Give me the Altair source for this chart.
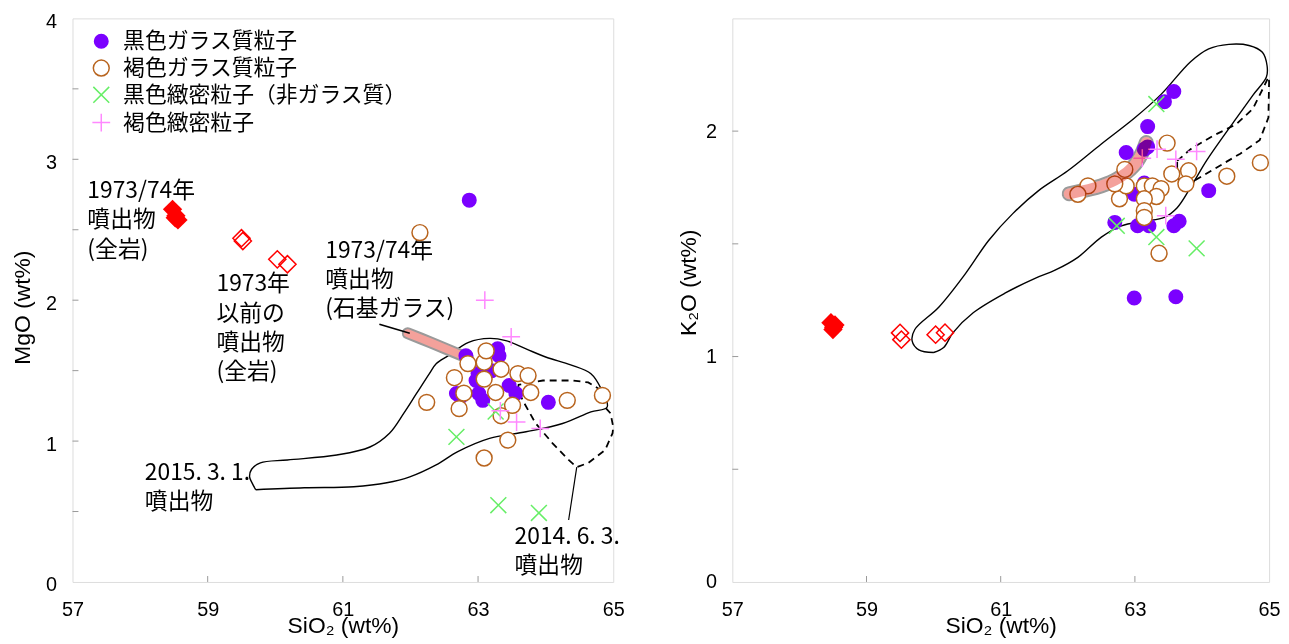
import altair as alt
import pandas as pd

# ---------------- data ----------------
KINDS = ["黒色ガラス質粒子", "褐色ガラス質粒子", "黒色緻密粒子（非ガラス質）", "褐色緻密粒子"]

# left panel: MgO vs SiO2
L_BG_SIO2 = [62.87, 62.82, 63.29, 63.31, 62.68, 62.97, 63.01, 63.07, 63.46, 63.56, 64.04, 63.00, 62.74, 63.20]
L_BG_MGO = [2.71, 1.606, 1.655, 1.606, 1.338, 1.43, 1.338, 1.289, 1.394, 1.338, 1.275, 1.48, 1.313, 1.50]
L_BRG_SIO2 = [62.24, 62.65, 62.72, 62.79, 62.85, 63.09, 63.12, 63.09, 63.26, 63.34, 63.34, 63.44, 63.09,
              63.51, 63.59, 63.74, 63.78, 64.32, 64.84, 62.14]
L_BRG_MGO = [1.275, 1.45, 1.23, 1.34, 1.55, 1.56, 1.64, 1.44, 1.345, 1.51, 1.18, 1.007, 0.88,
             1.254, 1.479, 1.465, 1.345, 1.289, 1.324, 2.48]
L_BD_SIO2 = [62.68, 63.26, 63.30, 63.90]
L_BD_MGO = [1.03, 1.21, 0.545, 0.49]
L_BRD_SIO2 = [63.10, 63.49, 63.33, 63.57, 63.92]
L_BRD_MGO = [2.0, 1.74, 1.215, 1.135, 1.09]
L_WR7374_SIO2 = [58.48, 58.53, 58.56, 58.52]
L_WR7374_MGO = [2.645, 2.60, 2.57, 2.585]
L_WRPRE_SIO2 = [59.50, 59.52, 60.03, 60.18]
L_WRPRE_MGO = [2.44, 2.42, 2.29, 2.255]

# right panel: K2O vs SiO2
R_BG_SIO2 = [63.58, 63.44, 63.19, 62.87, 63.19, 63.14, 62.99, 63.14, 64.10, 62.70, 63.04, 63.21, 63.58, 63.66, 62.99, 63.61]
R_BG_K2O = [2.176, 2.13, 2.02, 1.905, 1.93, 1.92, 1.72, 1.77, 1.736, 1.595, 1.58, 1.58, 1.58, 1.60, 1.26, 1.265]
R_BRG_SIO2 = [63.48, 63.55, 63.80, 63.76, 64.37, 64.87, 63.14, 63.26, 63.39, 63.32, 63.14, 63.14, 63.14,
              62.77, 62.87, 62.70, 62.85, 62.30, 62.15, 63.36]
R_BRG_K2O = [1.947, 1.81, 1.824, 1.766, 1.80, 1.86, 1.757, 1.757, 1.745, 1.71, 1.70, 1.647, 1.617,
             1.70, 1.757, 1.766, 1.83, 1.757, 1.72, 1.458]
R_BD_SIO2 = [63.32, 62.73, 63.32, 63.92]
R_BD_K2O = [2.12, 1.58, 1.53, 1.48]
R_BRD_SIO2 = [63.11, 63.33, 63.61, 63.92, 63.46]
R_BRD_K2O = [1.88, 1.92, 1.875, 1.91, 1.625]
R_WR7374_SIO2 = [58.47, 58.51, 58.53, 58.50]
R_WR7374_K2O = [1.15, 1.13, 1.14, 1.12]
R_WRPRE_SIO2 = [59.50, 59.52, 60.03, 60.17]
R_WRPRE_K2O = [1.105, 1.075, 1.097, 1.106]

# groundmass glass 1973/74 (band)
L_BAND_SIO2 = [61.96, 62.3, 62.6, 62.85]
L_BAND_MGO = [1.765, 1.70, 1.64, 1.59]
R_BAND_SIO2 = [62.02, 62.5, 62.75, 62.98, 63.10, 63.17]
R_BAND_K2O = [1.722, 1.757, 1.79, 1.845, 1.90, 1.95]

# 2015.3.1 field (solid outline)
L_F2015_SIO2 = [59.71, 60.43, 61.16, 61.65, 61.99, 62.38, 62.70, 63.17, 63.71, 64.25, 64.67, 64.91,
                64.82, 64.67, 64.37, 64.01, 63.71, 63.41, 63.17, 62.86, 62.56, 62.38, 62.28, 62.09,
                61.90, 61.69, 61.40, 60.91, 60.18, 59.78, 59.65, 59.62, 59.66, 59.71]
L_F2015_MGO = [0.655, 0.669, 0.676, 0.704, 0.746, 0.831, 0.925, 1.019, 1.066, 1.125, 1.207, 1.242,
               1.372, 1.478, 1.541, 1.595, 1.654, 1.713, 1.729, 1.701, 1.607, 1.549, 1.479, 1.338,
               1.197, 1.056, 0.958, 0.901, 0.866, 0.845, 0.80, 0.746, 0.70, 0.655]
R_F2015_SIO2 = [60.0, 59.78, 59.68, 59.72, 60.08, 60.48, 60.82, 61.18, 61.56, 62.0, 62.5, 62.99, 63.39,
                63.83, 64.1, 64.4, 64.7, 64.9, 64.97, 64.96, 64.76, 64.47, 64.07, 63.83, 63.63, 63.44,
                63.14, 62.8, 62.5, 62.15, 61.81, 61.52, 61.07, 60.59, 60.29, 60.15, 60.0]
R_F2015_K2O = [1.018, 1.03, 1.07, 1.12, 1.22, 1.37, 1.515, 1.634, 1.735, 1.824, 1.943, 2.057, 2.163,
               2.308, 2.365, 2.385, 2.38, 2.35, 2.29, 2.24, 2.16, 2.04, 1.87, 1.75, 1.66, 1.617,
               1.60, 1.58, 1.53, 1.44, 1.383, 1.348, 1.282, 1.194, 1.106, 1.04, 1.018]

# 2014.6.3 field (dashed outline)
L_F2014_SIO2 = [63.59, 63.60, 63.96, 64.40, 64.63, 64.78, 64.88, 64.96, 65.0, 64.99, 64.88, 64.63,
                64.46, 64.34, 64.10, 63.85, 63.66, 63.59]
L_F2014_MGO = [1.37, 1.40, 1.43, 1.43, 1.416, 1.373, 1.24, 1.197, 1.10, 1.056, 0.937, 0.845,
               0.815, 0.866, 0.986, 1.127, 1.289, 1.37]
R_F2014_SIO2 = [63.63, 63.83, 64.17, 64.51, 64.76, 64.91, 64.99, 65.0, 64.99, 64.86, 64.57, 64.17,
                63.83, 63.63, 63.63]
R_F2014_K2O = [1.868, 1.92, 1.98, 2.03, 2.10, 2.19, 2.24, 2.22, 2.06, 1.96, 1.90, 1.83,
               1.77, 1.79, 1.868]

# leader lines
L_LEAD1_SIO2 = [61.54, 61.99]
L_LEAD1_MGO = [1.83, 1.765]
L_LEAD2_SIO2 = [64.46, 64.34]
L_LEAD2_MGO = [0.815, 0.44]

# annotations
ANN_TEXT = ["1973/74年|噴出物|(全岩)", "1973年|以前の|噴出物|(全岩)", "1973/74年|噴出物|(石基ガラス)",
            "2015. 3. 1.|噴出物", "2014. 6. 3.|噴出物"]
ANN_SIO2 = [57.22, 59.13, 60.74, 58.07, 63.54]
ANN_MGO = [2.725, 2.063, 2.30, 0.725, 0.268]

X_TICK_LABELS = [57, 59, 61, 63, 65]
X_TICK_MARKS = [59, 61, 63]
L_Y_LABELS = [0, 1, 2, 3, 4]
L_Y_MARKS = [0.5, 1, 1.5, 2, 2.5, 3, 3.5]
R_Y_LABELS = [0, 1, 2]
R_Y_MARKS = [0.5, 1, 1.5, 2]

# ---------------- styling ----------------
JP = "Noto Sans CJK JP"
NUM = "Liberation Sans, Arial, sans-serif"
STROKES = ["#7b00ff", "#b8641e", "#66ee66", "#ff88ff"]
FILLS = ["#7b00ff", "#ffffff", "transparent", "transparent"]
SHAPES = ["M0.85,0A0.85,0.85,0,1,1,-0.85,0A0.85,0.85,0,1,1,0.85,0Z",
          "circle",
          "M-1,-1L1,1M-1,1L1,-1",
          "M-1.12,0L1.12,0M0,-1.12L0,1.12"]
BAND_GRAY = "#9a9a9a"
BAND_PINK = "#f4a19b"

W_L, W_R, H = 545, 541, 568


def df_xy(xs, ys):
    d = pd.DataFrame({"x": xs, "y": ys})
    d["i"] = range(len(d))
    return d


def make_panel(ymax, ylabels, ymarks, ytitle, ytitle_x, ytitle_y, ylabel_offset, width, pts, wr73, wrpre,
               band, f2015, f2014, legend, extra_layers, band_on_top):
    xs = alt.Scale(domain=[57, 65], nice=False, zero=False)
    ys = alt.Scale(domain=[0, ymax], nice=False, zero=False)
    xaxis = alt.Axis(values=X_TICK_LABELS, title="SiO₂ (wt%)", ticks=False, domain=False, grid=False,
                     labelFont=NUM, labelFontSize=20, labelPadding=18, labelColor="black",
                     titleFont=NUM, titleFontSize=23, titleFontWeight="normal", titleColor="black",
                     titleY=51, titleBaseline="alphabetic", format="d", labelFlush=False)
    yaxis = alt.Axis(values=ylabels, title=ytitle, ticks=False, domain=False, grid=False,
                     labelFont=NUM, labelFontSize=20, labelPadding=16, labelColor="black",
                     labelOffset=ylabel_offset,
                     titleFont=NUM, titleFontSize=23, titleFontWeight="normal", titleColor="black",
                     titleX=ytitle_x, titleY=ytitle_y, titleBaseline="middle", titleAngle=-90,
                     format="d", labelFlush=False)

    def X(f="x"):
        return alt.X(f"{f}:Q", scale=xs, axis=xaxis)

    def Y(f="y"):
        return alt.Y(f"{f}:Q", scale=ys, axis=yaxis)

    def band_line(color, w, **kw):
        return alt.Chart(band).mark_line(color=color, strokeWidth=w, strokeCap="round", strokeJoin="round",
                                         interpolate="catmull-rom", **kw).encode(x=X(), y=Y(), order="i:Q")

    layers = []
    # inward tick marks
    layers.append(alt.Chart(pd.DataFrame({"v": ymarks})).mark_rule(color="#999999", strokeWidth=1).encode(
        y=Y("v"), x=alt.value(0), x2=alt.value(6)))
    layers.append(alt.Chart(pd.DataFrame({"v": X_TICK_MARKS})).mark_rule(color="#999999", strokeWidth=1).encode(
        x=X("v"), y=alt.value(H), y2=alt.value(H - 6)))
    # outlines
    layers.append(alt.Chart(f2015).mark_line(color="black", strokeWidth=1.4, interpolate="catmull-rom").encode(
        x=X(), y=Y(), order="i:Q"))
    layers.append(alt.Chart(f2014).mark_line(color="black", strokeWidth=1.8, strokeDash=[7, 5]).encode(
        x=X(), y=Y(), order="i:Q"))

    if band_on_top:
        layers += [band_line(BAND_GRAY, 15), band_line("#ffffff", 11)]
    else:
        layers += [band_line(BAND_GRAY, 12), band_line(BAND_PINK, 8)]
    layers += extra_layers(X, Y)
    # whole-rock diamonds
    layers.append(alt.Chart(wr73).mark_point(shape="diamond", filled=True, color="#ff0000", size=380, opacity=1).encode(
        x=X(), y=Y()))
    layers.append(alt.Chart(wrpre).mark_point(shape="diamond", filled=False, color="#ff0000", size=300,
                                              strokeWidth=1.5, opacity=1).encode(x=X(), y=Y()))
    # particles
    layers.append(alt.Chart(pts).mark_point(filled=False, size=256, strokeWidth=1.5, opacity=1).encode(
        x=X(), y=Y(),
        color=alt.Color("kind:N", scale=alt.Scale(domain=KINDS, range=STROKES), legend=legend),
        fill=alt.Fill("kind:N", scale=alt.Scale(domain=KINDS, range=FILLS), legend=legend),
        shape=alt.Shape("kind:N", scale=alt.Scale(domain=KINDS, range=SHAPES), legend=legend),
    ))
    if band_on_top:
        layers.append(band_line(BAND_PINK, 11, blend="multiply"))
    return alt.layer(*layers).properties(width=width, height=H)


def points_table(groups):
    frames = []
    for kind, (xs, ys) in zip(KINDS, groups):
        frames.append(pd.DataFrame({"x": xs, "y": ys, "kind": kind}))
    return pd.concat(frames, ignore_index=True)


left_pts = points_table([(L_BG_SIO2, L_BG_MGO), (L_BRG_SIO2, L_BRG_MGO),
                         (L_BD_SIO2, L_BD_MGO), (L_BRD_SIO2, L_BRD_MGO)])
right_pts = points_table([(R_BG_SIO2, R_BG_K2O), (R_BRG_SIO2, R_BRG_K2O),
                          (R_BD_SIO2, R_BD_K2O), (R_BRD_SIO2, R_BRD_K2O)])

legend = alt.Legend(orient="none", legendX=18, legendY=12, title=None, labelFont=JP, labelFontSize=22,
                    labelColor="black", labelLimit=500, symbolSize=256, symbolStrokeWidth=1.5,
                    rowPadding=5, labelOffset=11, padding=0)


def left_extra(X, Y):
    ann = pd.DataFrame({"x": ANN_SIO2, "y": ANN_MGO, "t": ANN_TEXT})
    return [
        alt.Chart(df_xy(L_LEAD1_SIO2, L_LEAD1_MGO)).mark_line(color="black", strokeWidth=1.6).encode(
            x=X(), y=Y(), order="i:Q"),
        alt.Chart(df_xy(L_LEAD2_SIO2, L_LEAD2_MGO)).mark_line(color="black", strokeWidth=1.2).encode(
            x=X(), y=Y(), order="i:Q"),
        alt.Chart(ann).mark_text(align="left", baseline="alphabetic", font=JP, fontSize=23, color="black",
                                 lineBreak="|", lineHeight=29.5).encode(x=X(), y=Y(), text="t:N"),
    ]


left = make_panel(4, L_Y_LABELS, L_Y_MARKS, "MgO (wt%)", -50, 291, 3, W_L, left_pts,
                  df_xy(L_WR7374_SIO2, L_WR7374_MGO), df_xy(L_WRPRE_SIO2, L_WRPRE_MGO),
                  df_xy(L_BAND_SIO2, L_BAND_MGO), df_xy(L_F2015_SIO2, L_F2015_MGO),
                  df_xy(L_F2014_SIO2, L_F2014_MGO), legend, left_extra, band_on_top=False)

right = make_panel(2.5, R_Y_LABELS, R_Y_MARKS, "K₂O (wt%)", -44, 266, 0, W_R, right_pts,
                   df_xy(R_WR7374_SIO2, R_WR7374_K2O), df_xy(R_WRPRE_SIO2, R_WRPRE_K2O),
                   df_xy(R_BAND_SIO2, R_BAND_K2O), df_xy(R_F2015_SIO2, R_F2015_K2O),
                   df_xy(R_F2014_SIO2, R_F2014_K2O), None, lambda X, Y: [], band_on_top=True)

chart = alt.hconcat(left, right, spacing=52).resolve_legend(
    color="independent", fill="independent", shape="independent"
).resolve_scale(x="independent", y="independent").properties(
    padding={"left": 3, "top": 0, "right": 0, "bottom": 0}
).configure_view(stroke="black", strokeWidth=2).configure(background="white")

chart.save("out.html", embed_options={"renderer": "svg", "actions": False})
